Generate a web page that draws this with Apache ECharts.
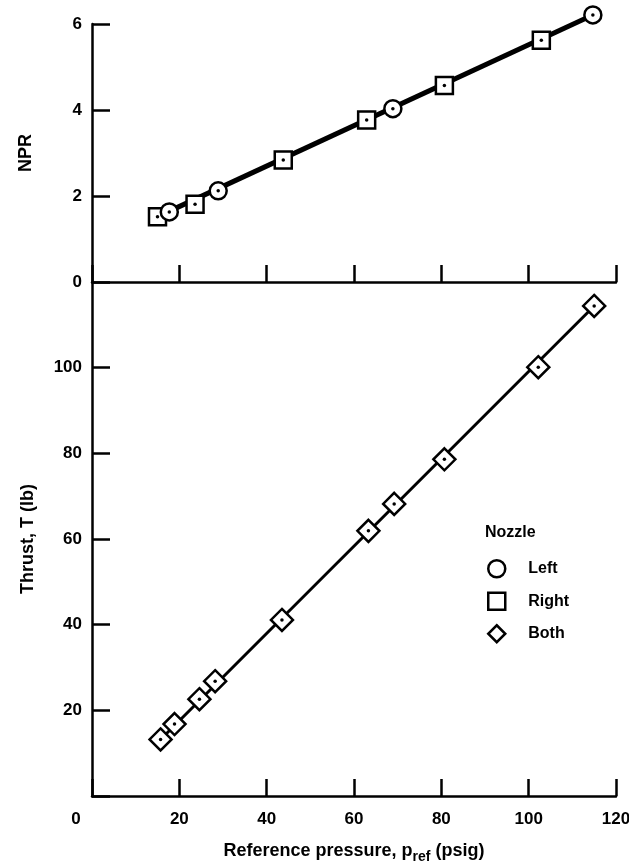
<!DOCTYPE html>
<html>
<head>
<meta charset="utf-8">
<script src="https://cdn.jsdelivr.net/npm/echarts@6/dist/echarts.min.js"></script>
<style>
  html, body { margin: 0; padding: 0; background: #fff; }
  #chart { width: 629px; height: 865px; }
</style>
</head>
<body>
<div id="chart"></div>
<script>
  // axis ranges (ticks every interval)
  const xRange = [0, 120, 20]
  const nprRange = [0, 6, 2]
  const thrustRange = [0, 120, 20]

  // NPR vs reference pressure, psig
  const leftNpr = [[17.7, 1.63], [28.9, 2.12], [68.9, 4.03], [114.7, 6.21]]
  const rightNpr = [[15.0, 1.52], [23.6, 1.81], [43.8, 2.84], [62.9, 3.77], [80.7, 4.57], [102.9, 5.62]]
  const nprFit = [[15.0, 1.52], [114.7, 6.21]]

  // thrust, both nozzles
  const bothThrust = [[15.7, 13.2], [18.9, 16.8], [24.6, 22.6], [28.2, 26.8], [43.5, 41.1],
    [63.3, 61.9], [69.2, 68.2], [80.7, 78.6], [102.2, 100.1], [115.0, 114.4]]
  const thrustFit = [[15.7, 13.2], [115.0, 114.4]]

  const FONT = 'Liberation Sans, Arial, sans-serif'
  const lbl = { color: '#000', fontFamily: FONT, fontWeight: 'bold', fontSize: 17 }
  const nameFont = { ...lbl, fontSize: 18 }
  const markStyle = { color: '#fff', borderColor: '#000', borderWidth: 2.5, opacity: 1 }

  function xAxisOpt(gridIndex, showLabels) {
    return {
      type: 'value', gridIndex,
      min: xRange[0], max: xRange[1], interval: xRange[2],
      splitLine: { show: false },
      axisLine: { show: true, onZero: false, lineStyle: { color: '#000', width: 2.5 } },
      axisTick: { show: true, inside: true, length: 17, lineStyle: { color: '#000', width: 2.5 } },
      axisLabel: {
        show: showLabels, margin: 15, ...lbl,
        formatter: (v) => (v === 0 ? '{z|0}' : String(v)),
        rich: { z: { ...lbl, padding: [0, 32, 0, 0] } },
      },
    }
  }

  function yAxisOpt(gridIndex, range, hideEnds) {
    return {
      type: 'value', gridIndex,
      min: range[0], max: range[1], interval: range[2],
      splitLine: { show: false },
      axisLine: { show: true, onZero: false, lineStyle: { color: '#000', width: 2.5 } },
      axisTick: { show: true, inside: true, length: 18, lineStyle: { color: '#000', width: 2.5 } },
      axisLabel: {
        margin: 10, ...lbl,
        formatter: (v) => (hideEnds && (v === range[0] || v === range[1]) ? '' : String(v)),
      },
    }
  }

  const chart = echarts.init(document.getElementById('chart'), null, { renderer: 'canvas' })

  const option = {
    backgroundColor: '#fff',
    animation: false,
    title: {
      text: 'Nozzle', left: 485, top: 525,
      textStyle: { ...lbl, fontSize: 16 },
      padding: 0,
    },
    legend: {
      orient: 'vertical', left: 482, top: 554,
      itemWidth: 17, itemHeight: 17, itemGap: 13,
      textStyle: { ...lbl, fontSize: 16, padding: [0, 0, 0, 18] },
      data: [
        { name: 'Left', icon: 'circle', itemStyle: markStyle },
        { name: 'Right', icon: 'rect', itemStyle: markStyle },
        { name: 'Both', icon: 'diamond', itemStyle: markStyle },
      ],
      selectedMode: false,
    },
    grid: [
      { left: 92, right: 13, top: 24, height: 258, outerBoundsMode: 'none' },
      { left: 92, right: 13, top: 282, bottom: 69, outerBoundsMode: 'none' },
    ],
    xAxis: [
      xAxisOpt(0, false),
      {
        ...xAxisOpt(1, true),
        name: '{a|Reference pressure, p}{s|ref}{a| (psig)}',
        nameLocation: 'middle', nameGap: 42,
        nameTextStyle: {
          rich: {
            a: { ...nameFont },
            s: { ...nameFont, fontSize: 14, padding: [12, 0, 0, 0] },
          },
        },
      },
    ],
    yAxis: [
      {
        ...yAxisOpt(0, nprRange, false),
        name: 'NPR', nameLocation: 'middle', nameGap: 57, nameRotate: 90,
        nameTextStyle: { ...nameFont },
      },
      {
        ...yAxisOpt(1, thrustRange, true),
        name: 'Thrust, T (lb)', nameLocation: 'middle', nameGap: 55, nameRotate: 90,
        nameTextStyle: { ...nameFont },
      },
    ],
    series: [
      {
        type: 'line', xAxisIndex: 0, yAxisIndex: 0, data: nprFit, clip: false,
        symbol: 'none', lineStyle: { color: '#000', width: 5 }, z: 1,
      },
      {
        name: 'Right', type: 'scatter', xAxisIndex: 0, yAxisIndex: 0, data: rightNpr, clip: false,
        symbol: 'rect', symbolSize: 17, itemStyle: markStyle, z: 3,
      },
      {
        name: 'Left', type: 'scatter', xAxisIndex: 0, yAxisIndex: 0, data: leftNpr, clip: false,
        symbol: 'circle', symbolSize: 17, itemStyle: markStyle, z: 3,
      },
      {
        type: 'scatter', xAxisIndex: 0, yAxisIndex: 0, data: rightNpr.concat(leftNpr), clip: false,
        symbol: 'circle', symbolSize: 3.5, itemStyle: { color: '#000', opacity: 1 }, z: 4,
      },
      {
        type: 'line', xAxisIndex: 1, yAxisIndex: 1, data: thrustFit, clip: false,
        symbol: 'none', lineStyle: { color: '#000', width: 3 }, z: 1,
      },
      {
        name: 'Both', type: 'scatter', xAxisIndex: 1, yAxisIndex: 1, data: bothThrust, clip: false,
        symbol: 'diamond', symbolSize: 22, itemStyle: markStyle, z: 3,
      },
      {
        type: 'scatter', xAxisIndex: 1, yAxisIndex: 1, data: bothThrust, clip: false,
        symbol: 'circle', symbolSize: 3.5, itemStyle: { color: '#000', opacity: 1 }, z: 4,
      },
    ],
  }

  chart.setOption(option)
</script>
</body>
</html>
